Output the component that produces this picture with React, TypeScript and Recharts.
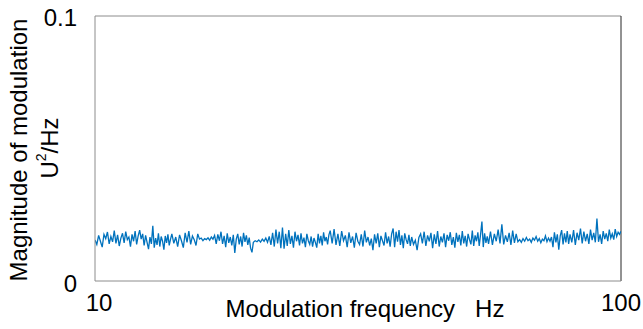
import { LineChart, Line, XAxis, YAxis, ReferenceLine } from 'recharts'

// frequency grid, Hz (roughly log spaced)
const freqs = [
  10.00, 10.08, 10.16, 10.24, 10.32, 10.40, 10.48, 10.56, 10.64, 10.72, 10.80, 10.88, 10.96, 11.04, 11.12, 11.20, 11.28, 11.36, 11.44, 11.52, 11.60, 11.68, 11.76, 11.84, 11.92,
  12.00, 12.08, 12.16, 12.24, 12.32, 12.40, 12.48, 12.56, 12.64, 12.72, 12.80, 12.88, 12.96, 13.04, 13.12, 13.20, 13.28, 13.36, 13.44, 13.52, 13.60, 13.68, 13.76, 13.84, 13.92,
  14.00, 14.12, 14.24, 14.36, 14.48, 14.60, 14.72, 14.84, 14.96, 15.08, 15.20, 15.32, 15.44, 15.56, 15.68, 15.80, 15.92, 16.04, 16.16, 16.28, 16.40, 16.52, 16.64, 16.76, 16.88,
  17.00, 17.12, 17.24, 17.36, 17.48, 17.60, 17.72, 17.84, 17.96, 18.08, 18.20, 18.32, 18.44, 18.56, 18.68, 18.80, 18.92, 19.04, 19.16, 19.28, 19.40, 19.52, 19.64, 19.76, 19.88,
  20.00, 20.16, 20.32, 20.48, 20.64, 20.80, 20.96, 21.12, 21.28, 21.44, 21.60, 21.76, 21.92, 22.08, 22.24, 22.40, 22.56, 22.72, 22.88, 23.04, 23.20, 23.36, 23.52, 23.68, 23.84,
  24.00, 24.16, 24.32, 24.48, 24.64, 24.80, 24.96, 25.12, 25.28, 25.44, 25.60, 25.76, 25.92, 26.08, 26.24, 26.40, 26.56, 26.72, 26.88, 27.04, 27.20, 27.36, 27.52, 27.68, 27.84,
  28.00, 28.24, 28.48, 28.72, 28.96, 29.20, 29.44, 29.68, 29.92, 30.16, 30.40, 30.64, 30.88, 31.12, 31.36, 31.60, 31.84, 32.08, 32.32, 32.56, 32.80, 33.04, 33.28, 33.52, 33.76,
  34.00, 34.24, 34.48, 34.72, 34.96, 35.20, 35.44, 35.68, 35.92, 36.16, 36.40, 36.64, 36.88, 37.12, 37.36, 37.60, 37.84, 38.08, 38.32, 38.56, 38.80, 39.04, 39.28, 39.52, 39.76,
  40.00, 40.32, 40.64, 40.96, 41.28, 41.60, 41.92, 42.24, 42.56, 42.88, 43.20, 43.52, 43.84, 44.16, 44.48, 44.80, 45.12, 45.44, 45.76, 46.08, 46.40, 46.72, 47.04, 47.36, 47.68,
  48.00, 48.32, 48.64, 48.96, 49.28, 49.60, 49.92, 50.24, 50.56, 50.88, 51.20, 51.52, 51.84, 52.16, 52.48, 52.80, 53.12, 53.44, 53.76, 54.08, 54.40, 54.72, 55.04, 55.36, 55.68,
  56.00, 56.48, 56.96, 57.44, 57.92, 58.40, 58.88, 59.36, 59.84, 60.32, 60.80, 61.28, 61.76, 62.24, 62.72, 63.20, 63.68, 64.16, 64.64, 65.12, 65.60, 66.08, 66.56, 67.04, 67.52,
  68.00, 68.48, 68.96, 69.44, 69.92, 70.40, 70.88, 71.36, 71.84, 72.32, 72.80, 73.28, 73.76, 74.24, 74.72, 75.20, 75.68, 76.16, 76.64, 77.12, 77.60, 78.08, 78.56, 79.04, 79.52,
  80.000, 80.625, 81.250, 81.875, 82.500, 83.125, 83.750, 84.375, 85.000, 85.625, 86.250, 86.875, 87.500, 88.125, 88.750, 89.375,
  90.000, 90.625, 91.250, 91.875, 92.500, 93.125, 93.750, 94.375, 95.000, 95.625, 96.250, 96.875, 97.500, 98.125, 98.750, 99.375, 100.000,
]

// magnitude, U^2/Hz
const magnitude = [
  0.0155, 0.0138, 0.0172, 0.0150, 0.0128, 0.0176, 0.0160, 0.0185, 0.0140, 0.0168, 0.0148, 0.0190, 0.0142, 0.0174, 0.0132, 0.0162, 0.0180, 0.0144, 0.0186, 0.0156, 0.0166, 0.0130, 0.0176, 0.0150, 0.0188,
  0.0138, 0.0170, 0.0192, 0.0158, 0.0178, 0.0134, 0.0172, 0.0146, 0.0120, 0.0166, 0.0140, 0.0208, 0.0126, 0.0162, 0.0136, 0.0180, 0.0130, 0.0168, 0.0150, 0.0118, 0.0170, 0.0144, 0.0176, 0.0134, 0.0158,
  0.0178, 0.0142, 0.0166, 0.0130, 0.0174, 0.0152, 0.0126, 0.0182, 0.0146, 0.0188, 0.0138, 0.0170, 0.0156, 0.0134, 0.0178, 0.0158, 0.0162, 0.0152, 0.0160, 0.0156, 0.0163, 0.0154, 0.0166, 0.0158, 0.0172,
  0.0140, 0.0176, 0.0152, 0.0186, 0.0140, 0.0170, 0.0128, 0.0180, 0.0144, 0.0166, 0.0134, 0.0174, 0.0106, 0.0158, 0.0178, 0.0138, 0.0168, 0.0130, 0.0182, 0.0148, 0.0172, 0.0136, 0.0164, 0.0124, 0.0108,
  0.0146, 0.0152, 0.0148, 0.0155, 0.0147, 0.0158, 0.0150, 0.0162, 0.0146, 0.0168, 0.0136, 0.0182, 0.0130, 0.0194, 0.0142, 0.0186, 0.0124, 0.0202, 0.0122, 0.0178, 0.0132, 0.0192, 0.0140, 0.0170, 0.0126,
  0.0186, 0.0150, 0.0174, 0.0134, 0.0180, 0.0142, 0.0164, 0.0128, 0.0178, 0.0152, 0.0138, 0.0168, 0.0130, 0.0162, 0.0146, 0.0126, 0.0178, 0.0142, 0.0170, 0.0134, 0.0184, 0.0150, 0.0166, 0.0138, 0.0174,
  0.0190, 0.0142, 0.0196, 0.0136, 0.0178, 0.0132, 0.0188, 0.0152, 0.0172, 0.0128, 0.0184, 0.0144, 0.0168, 0.0126, 0.0182, 0.0150, 0.0138, 0.0176, 0.0130, 0.0190, 0.0146, 0.0166, 0.0134, 0.0160, 0.0116,
  0.0176, 0.0142, 0.0180, 0.0128, 0.0170, 0.0152, 0.0134, 0.0184, 0.0142, 0.0168, 0.0130, 0.0178, 0.0198, 0.0128, 0.0186, 0.0148, 0.0192, 0.0136, 0.0172, 0.0124, 0.0180, 0.0156, 0.0140, 0.0174, 0.0132,
  0.0166, 0.0138, 0.0154, 0.0116, 0.0164, 0.0178, 0.0142, 0.0186, 0.0132, 0.0172, 0.0150, 0.0182, 0.0124, 0.0176, 0.0140, 0.0188, 0.0130, 0.0168, 0.0146, 0.0180, 0.0128, 0.0174, 0.0152, 0.0184, 0.0136,
  0.0166, 0.0126, 0.0182, 0.0148, 0.0174, 0.0134, 0.0188, 0.0142, 0.0170, 0.0130, 0.0178, 0.0156, 0.0138, 0.0190, 0.0132, 0.0172, 0.0150, 0.0184, 0.0132, 0.0176, 0.0224, 0.0128, 0.0180, 0.0144, 0.0168,
  0.0140, 0.0186, 0.0136, 0.0178, 0.0150, 0.0194, 0.0142, 0.0214, 0.0138, 0.0172, 0.0148, 0.0182, 0.0136, 0.0190, 0.0144, 0.0178, 0.0148, 0.0156, 0.0146, 0.0160, 0.0150, 0.0164, 0.0152, 0.0158, 0.0146,
  0.0162, 0.0154, 0.0168, 0.0150, 0.0160, 0.0144, 0.0158, 0.0152, 0.0170, 0.0148, 0.0162, 0.0150, 0.0166, 0.0128, 0.0184, 0.0146, 0.0176, 0.0118, 0.0170, 0.0192, 0.0138, 0.0180, 0.0146, 0.0188, 0.0140,
  0.0176, 0.0146, 0.0192, 0.0136, 0.0182, 0.0154, 0.0198, 0.0142, 0.0186, 0.0150, 0.0178, 0.0140, 0.0194, 0.0154, 0.0182, 0.0146,
  0.0236, 0.0148, 0.0176, 0.0140, 0.0188, 0.0158, 0.0180, 0.0150, 0.0194, 0.0162, 0.0178, 0.0156, 0.0196, 0.0168, 0.0184, 0.0176, 0.0188,
]

const xTicks = [10, 100]
const yTicks = [0, 0.1]

const data = freqs.map((f, i) => ({ f, m: magnitude[i] }))

const font = '"Liberation Sans", Arial, sans-serif'

const YTick = ({ x, y, payload }: any) => (
  <text x={x - 10} y={payload.value === 0 ? y + 5 : y + 4} textAnchor="end" dominantBaseline="middle" fontSize={24} fill="#000" fontFamily={font}>
    {payload.value}
  </text>
)

const XTick = ({ x, y, payload }: any) => (
  <text x={payload.value === 10 ? x + 4 : x} y={y + 16} textAnchor="middle" dominantBaseline="middle" fontSize={24} fill="#000" fontFamily={font}>
    {payload.value}
  </text>
)

export default function App() {
  return (
    <div style={{ position: 'absolute', left: 0, top: 0, background: '#fff' }}>
      <LineChart width={643} height={329} data={data} margin={{ top: 16, right: 22, bottom: 0, left: 0 }}>
        <XAxis
          dataKey="f"
          type="number"
          scale="log"
          domain={[10, 100]}
          ticks={xTicks}
          tick={<XTick />}
          tickLine={false}
          height={48}
          axisLine={{ stroke: '#8c8c8c' }}
          allowDataOverflow
        />
        <YAxis
          type="number"
          domain={[0, 0.1]}
          ticks={yTicks}
          tick={<YTick />}
          tickLine={false}
          width={95}
          axisLine={{ stroke: '#8c8c8c' }}
        />
        <ReferenceLine y={0.1} stroke="#8c8c8c" />
        <ReferenceLine x={100} stroke="#262626" />
        <Line dataKey="m" stroke="#0072bd" strokeWidth={1.3} dot={false} isAnimationActive={false} />
        <text x={365} y={311} textAnchor="middle" dominantBaseline="middle" fontSize={24} fontFamily={font} fill="#000">
          Modulation frequency{'\u00a0\u00a0\u00a0'}Hz
        </text>
        <text x={21} y={150} transform="rotate(-90 21 150)" textAnchor="middle" dominantBaseline="middle" fontSize={24} fontFamily={font} fill="#000">
          Magnitude of modulation
        </text>
        <text x={52} y={148} transform="rotate(-90 52 148)" textAnchor="middle" dominantBaseline="middle" fontSize={24} fontFamily={font} fill="#000">
          U<tspan dy={-10} fontSize={14}>2</tspan><tspan dy={10}>/Hz</tspan>
        </text>
      </LineChart>
    </div>
  )
}
